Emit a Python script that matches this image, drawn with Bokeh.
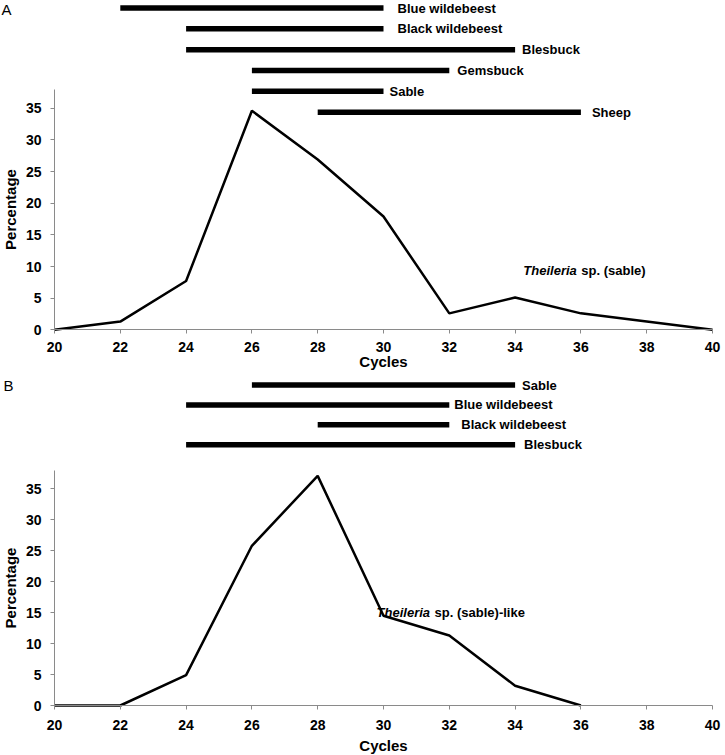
from bokeh.plotting import figure
from bokeh.models import Range1d, FixedTicker, Label, ColumnDataSource
from bokeh.layouts import column
from bokeh.embed import file_html
from bokeh.resources import INLINE
from bokeh.core.properties import value

# ---------------- data ----------------
x_ticks = [20, 22, 24, 26, 28, 30, 32, 34, 36, 38, 40]
y_ticks = [0, 5, 10, 15, 20, 25, 30, 35]

cycles_a = [20, 22, 24, 26, 28, 30, 32, 34, 36, 38, 40]
pct_a = [0, 1.3, 7.7, 34.6, 26.9, 17.9, 2.6, 5.1, 2.6, 1.3, 0]
hosts_a = ["Blue wildebeest", "Black wildebeest", "Blesbuck", "Gemsbuck", "Sable", "Sheep"]
start_a = [22, 24, 24, 26, 26, 28]
end_a = [30, 30, 34, 32, 30, 36]

cycles_b = [20, 22, 24, 26, 28, 30, 32, 34, 36]
pct_b = [0, 0, 4.9, 25.8, 37.1, 14.5, 11.3, 3.2, 0]
hosts_b = ["Sable", "Blue wildebeest", "Black wildebeest", "Blesbuck"]
start_b = [26, 24, 28, 24]
end_b = [34, 32, 32, 34]

# ---------------- styling / layout ----------------
FONT = "Liberation Sans"
AXIS_GREY = "#8a8a8a"
FIG_W = 724
X_PX = 32.9          # px per cycle
X_LEFT_PX = 54       # where cycle 20 sits
label_dx_a = [14, 14, 7, 8, 6, 11]
label_dx_b = [7, 5, 12, 9]


def make_panel(cycles, pct, hosts, starts, ends, dxs, fig_h, zero_px, y_px,
               lane_top_px, lane_step_px, x_lab_standoff, x_axlab_standoff,
               letter, letter_x_px, letter_y_px, note_x, note_y, note_tail):
    x_start = 20 - X_LEFT_PX / X_PX
    x_end = x_start + FIG_W / X_PX
    y_end = zero_px / y_px
    y_start = -(fig_h - zero_px) / y_px
    lane_end = -lane_top_px / lane_step_px
    lane_start = lane_end + fig_h / lane_step_px
    p = figure(width=FIG_W, height=fig_h,
               x_range=Range1d(x_start, x_end), y_range=Range1d(y_start, y_end),
               output_backend="svg", toolbar_location=None, min_border=0)
    p.extra_y_ranges = {"lanes": Range1d(start=lane_start, end=lane_end)}
    p.outline_line_color = None
    p.grid.visible = False
    p.background_fill_color = "white"
    p.border_fill_color = "white"

    # axes drawn at fixed data positions inside the canvas
    p.xaxis.fixed_location = 0
    p.yaxis.fixed_location = 20
    p.xaxis.bounds = (20, 40)
    p.yaxis.bounds = (0, 38)
    p.xaxis.ticker = FixedTicker(ticks=x_ticks)
    p.yaxis.ticker = FixedTicker(ticks=y_ticks)
    for ax in (p.xaxis, p.yaxis):
        ax.axis_line_color = AXIS_GREY
        ax.major_tick_line_color = AXIS_GREY
        ax.major_tick_in = 0
        ax.major_tick_out = 4
        ax.minor_tick_line_color = None
        ax.major_label_text_font = FONT
        ax.major_label_text_font_style = "bold"
        ax.major_label_text_font_size = "14px"
        ax.major_label_text_color = "black"
        ax.axis_label_text_font = FONT
        ax.axis_label_text_font_style = "bold"
        ax.axis_label_text_font_size = "15px"
        ax.axis_label_text_color = "black"
    p.xaxis.axis_label = "Cycles"
    p.yaxis.axis_label = "Percentage"
    p.xaxis.major_label_standoff = x_lab_standoff
    p.xaxis.axis_label_standoff = x_axlab_standoff
    p.yaxis.major_label_standoff = 9
    p.yaxis.axis_label_standoff = 4

    # frequency line
    p.line(cycles, pct, line_color="black", line_width=2.5)

    # host range bars
    lanes = list(range(len(hosts)))
    src = ColumnDataSource(dict(x0=starts, x1=ends, lane=lanes, name=hosts, dx=dxs))
    p.segment(x0="x0", y0="lane", x1="x1", y1="lane", source=src,
              line_color="black", line_width=5.5, line_cap="butt",
              y_range_name="lanes")
    p.text(x="x1", y="lane", text="name", x_offset="dx", source=src,
           y_range_name="lanes", text_font=value(FONT), text_font_style="bold",
           text_font_size="13px", text_baseline="middle", text_align="left",
           text_color="black")

    # panel letter
    p.add_layout(Label(x=x_start + letter_x_px / X_PX, y=(zero_px - letter_y_px) / y_px,
                       text=letter, text_font=FONT, text_font_size="15px",
                       text_color="black", text_align="left", text_baseline="middle"))

    # species annotation
    p.add_layout(Label(x=note_x, y=note_y, text="Theileria", text_font=FONT,
                       text_font_style="bold italic", text_font_size="13px",
                       text_color="black", text_baseline="middle", text_align="left"))
    p.add_layout(Label(x=note_x, y=note_y, x_offset=58, text=note_tail, text_font=FONT,
                       text_font_style="bold", text_font_size="13px",
                       text_color="black", text_baseline="middle", text_align="left"))
    return p


pa = make_panel(cycles_a, pct_a, hosts_a, start_a, end_a, label_dx_a,
                fig_h=375, zero_px=329.3, y_px=6.33,
                lane_top_px=7.5, lane_step_px=20.84,
                x_lab_standoff=8, x_axlab_standoff=-2,
                letter="A", letter_x_px=1, letter_y_px=9,
                note_x=34.25, note_y=9.37, note_tail="sp. (sable)")
pb = make_panel(cycles_b, pct_b, hosts_b, start_b, end_b, label_dx_b,
                fig_h=379, zero_px=330, y_px=6.19,
                lane_top_px=9.5, lane_step_px=19.92,
                x_lab_standoff=10, x_axlab_standoff=4,
                letter="B", letter_x_px=3, letter_y_px=10,
                note_x=29.79, note_y=15.0, note_tail="sp. (sable)-like")

layout = column(pa, pb, spacing=0)
open("out.html", "w").write(file_html(layout, INLINE))
